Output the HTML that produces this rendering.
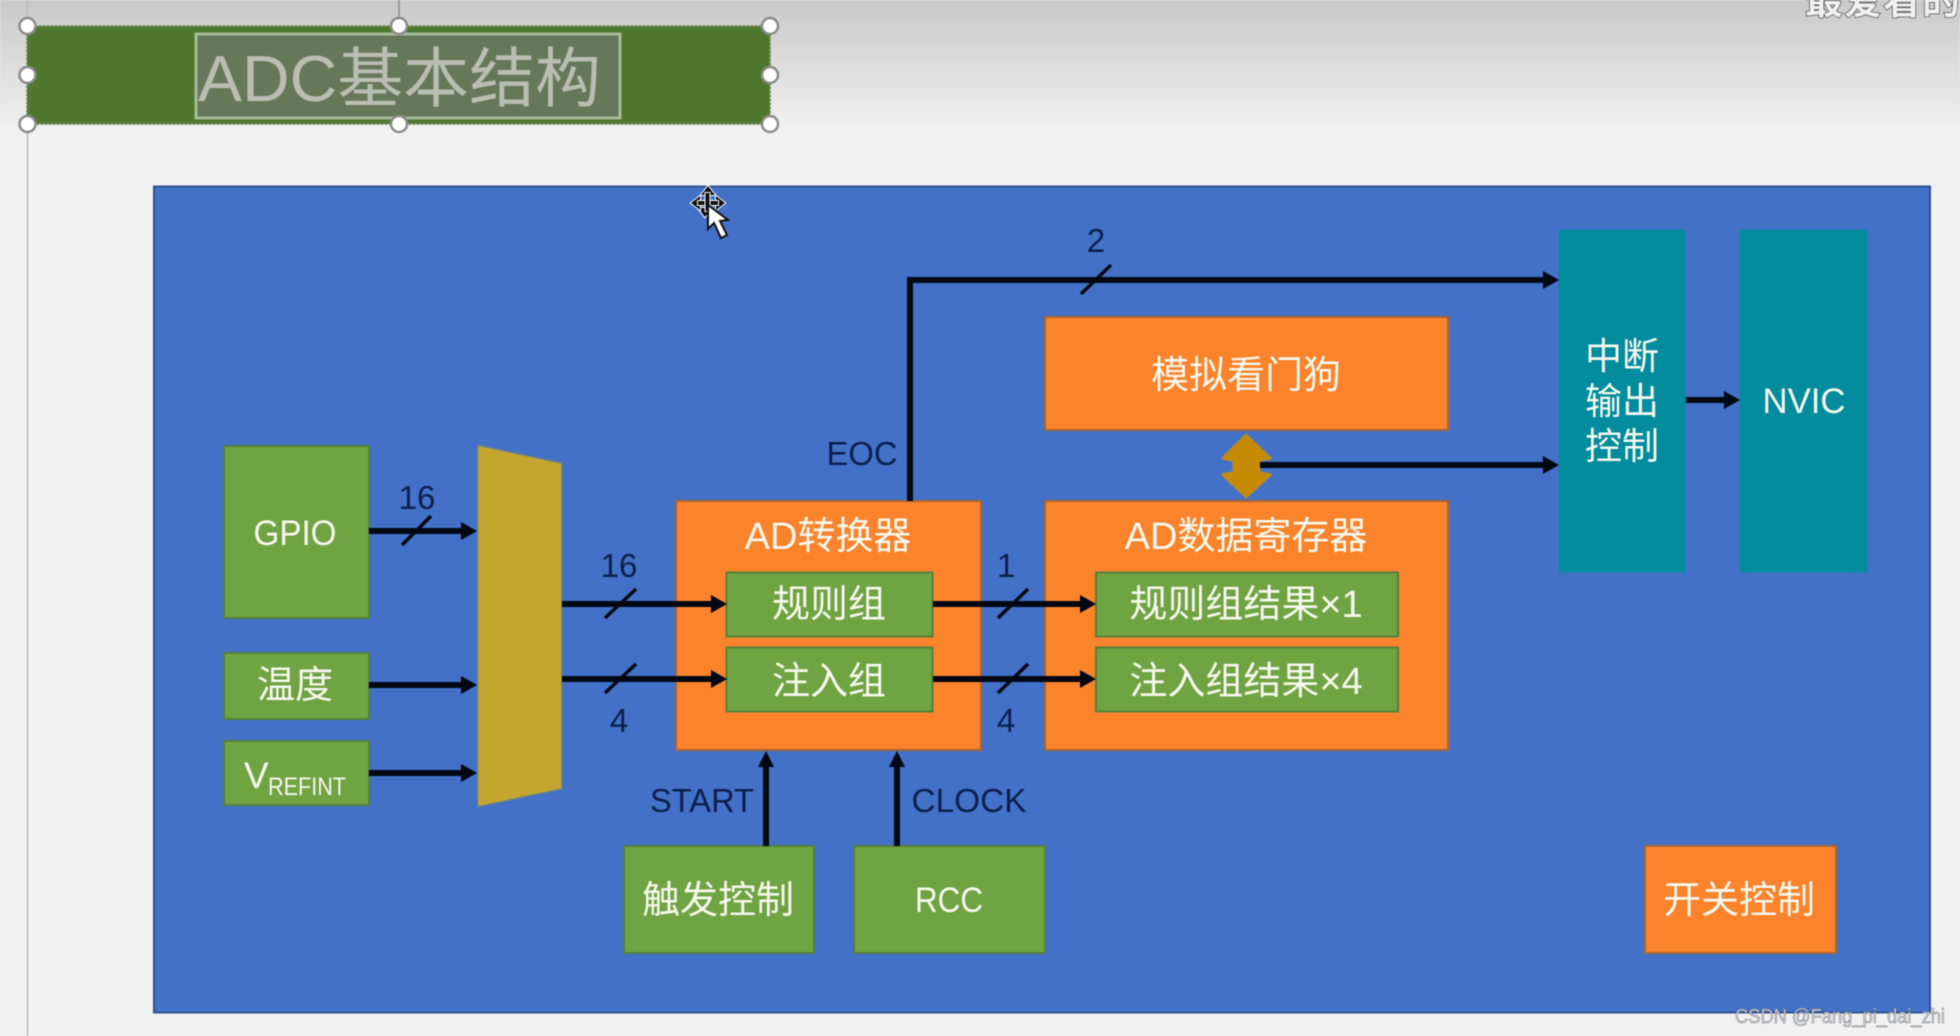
<!DOCTYPE html>
<html>
<head>
<meta charset="utf-8">
<style>
html,body{margin:0;padding:0;width:1960px;height:1036px;overflow:hidden;background:#f1f1f1}
svg{display:block;filter:blur(0.5px)}
text{font-family:"Liberation Sans","Noto Sans CJK SC",sans-serif}
.w{fill:#f6f8ee;font-size:38px;text-anchor:middle}
.d{fill:#0c1f4e;font-size:33px;text-anchor:middle}
.g{fill:#70a443;stroke:#55803a;stroke-width:2}
.o{fill:#fa832b;stroke:#a8662e;stroke-width:2}
.t{fill:#028c9e;stroke:#0a8aa0;stroke-width:1}
.l{stroke:#000814;stroke-width:6;fill:none}
.s{stroke:#000814;stroke-width:3.500;fill:none}
.h{fill:#000814}
.r{fill:#fff;stroke:#8b8b8b;stroke-width:2.5}
</style>
</head>
<body>
<svg width="1960" height="1036" viewBox="0 0 1960 1036" xmlns="http://www.w3.org/2000/svg">
<defs>
<linearGradient id="bg" x1="0" y1="0" x2="0" y2="1">
<stop offset="0" stop-color="#c9c9c9"/><stop offset="1" stop-color="#f1f1f1"/>
</linearGradient>
</defs>
<rect width="1960" height="1036" fill="#f1f1f1"/>
<rect width="1960" height="130" fill="url(#bg)"/>
<line x1="27.5" y1="0" x2="27.5" y2="1036" stroke="#bdbdbd" stroke-width="1.5"/>

<!-- top right cut-off text -->
<text x="1805" y="14" font-size="38" font-weight="700" fill="#f0f0f0" stroke="#555" stroke-width="1.5" paint-order="stroke" letter-spacing="1">最爱看的</text>

<!-- title -->
<line x1="399" y1="0" x2="399" y2="26" stroke="#8b8b8b" stroke-width="1.5"/>
<rect x="27" y="26" width="743" height="98" fill="#4f772d" stroke="#6d8a55" stroke-width="2" stroke-dasharray="2 2"/>
<rect x="196" y="34" width="424" height="84" fill="#66785a" stroke="#a6b89a" stroke-width="3"/>
<text x="198" y="101" font-size="65" fill="#b9bdb2" textLength="403" lengthAdjust="spacingAndGlyphs">ADC基本结构</text>
<circle class="r" cx="27.5" cy="26" r="8"/><circle class="r" cx="399" cy="26" r="8"/><circle class="r" cx="770" cy="26" r="8"/>
<circle class="r" cx="27.5" cy="75" r="8"/><circle class="r" cx="770" cy="75" r="8"/>
<circle class="r" cx="27.5" cy="124" r="8"/><circle class="r" cx="399" cy="124" r="8"/><circle class="r" cx="770" cy="124" r="8"/>

<!-- panel -->
<rect x="154" y="186.500" width="1776" height="826" fill="#4271c7" stroke="#2f528f" stroke-width="2"/>

<!-- left inputs -->
<rect class="g" x="224" y="446" width="145" height="172"/>
<text class="w" x="295" y="545" style="font-size:35px" textLength="83" lengthAdjust="spacingAndGlyphs">GPIO</text>
<rect class="g" x="224" y="653" width="145" height="66"/>
<text class="w" x="295" y="698">温度</text>
<rect class="g" x="224" y="741" width="145" height="64"/>
<text x="244" y="788" font-size="37" fill="#f6f8ee">V</text>
<text x="268" y="795" font-size="25" fill="#f6f8ee" textLength="78" lengthAdjust="spacingAndGlyphs">REFINT</text>

<!-- mux -->
<polygon points="477.500,445 562,463 562,789 477.500,807" fill="#c4a52f" stroke="#5f7f9a" stroke-width="1.5"/>

<!-- AD converter -->
<rect class="o" x="676" y="501" width="305" height="249"/>
<text class="w" x="828" y="549">AD转换器</text>
<rect class="g" x="726.500" y="572.500" width="206" height="64"/>
<text class="w" x="829" y="617">规则组</text>
<rect class="g" x="726.500" y="647.500" width="206" height="64"/>
<text class="w" x="829" y="694">注入组</text>

<!-- AD data reg -->
<rect class="o" x="1045" y="501" width="403" height="249"/>
<text class="w" x="1246" y="549">AD数据寄存器</text>
<rect class="g" x="1096" y="572.500" width="302" height="64"/>
<text class="w" x="1246" y="617">规则组结果×1</text>
<rect class="g" x="1096" y="647.500" width="302" height="64"/>
<text class="w" x="1246" y="694">注入组结果×4</text>

<!-- watchdog -->
<rect class="o" x="1045" y="317" width="403" height="113"/>
<text class="w" x="1246" y="388">模拟看门狗</text>

<!-- double arrow -->
<polygon points="1246,434 1271,458 1271,459 1260,461 1260,472 1271,474 1271,475 1246,498 1222,475 1222,474 1233,472 1233,461 1222,459 1222,458" fill="#c68a05" stroke="#b38a30" stroke-width="1.5"/>

<!-- interrupt + NVIC -->
<rect class="t" x="1559" y="230" width="126" height="342"/>
<text class="w" x="1622" y="369" style="font-size:37px">中断</text>
<text class="w" x="1622" y="414" style="font-size:37px">输出</text>
<text class="w" x="1622" y="459" style="font-size:37px">控制</text>
<rect class="t" x="1740" y="230" width="127" height="342"/>
<text class="w" x="1804" y="413" style="font-size:35px" textLength="83" lengthAdjust="spacingAndGlyphs">NVIC</text>

<!-- bottom blocks -->
<rect class="g" x="624" y="846" width="190" height="107"/>
<text class="w" x="718" y="913">触发控制</text>
<rect class="g" x="854" y="846" width="191" height="107"/>
<text class="w" x="949" y="912" style="font-size:35px" textLength="68" lengthAdjust="spacingAndGlyphs">RCC</text>
<rect class="o" x="1645" y="846" width="191" height="107"/>
<text class="w" x="1739" y="913">开关控制</text>

<!-- connectors -->
<line class="l" x1="369" y1="531" x2="462" y2="531"/><polygon class="h" points="461,522 477,531 461,540"/>
<line class="l" x1="369" y1="685" x2="462" y2="685"/><polygon class="h" points="461,676 477,685 461,694"/>
<line class="l" x1="369" y1="773" x2="462" y2="773"/><polygon class="h" points="461,764 477,773 461,782"/>
<line class="s" x1="402" y1="545" x2="431" y2="516"/>

<line class="l" x1="562" y1="604" x2="712" y2="604"/><polygon class="h" points="711,595 727,604 711,613"/>
<line class="l" x1="562" y1="679" x2="712" y2="679"/><polygon class="h" points="711,670 727,679 711,688"/>
<line class="s" x1="605" y1="618" x2="636" y2="589"/>
<line class="s" x1="605" y1="693" x2="636" y2="664"/>

<line class="l" x1="933" y1="604" x2="1081" y2="604"/><polygon class="h" points="1080,595 1096,604 1080,613"/>
<line class="l" x1="933" y1="679" x2="1081" y2="679"/><polygon class="h" points="1080,670 1096,679 1080,688"/>
<line class="s" x1="998" y1="618" x2="1028" y2="589"/>
<line class="s" x1="998" y1="693" x2="1028" y2="664"/>

<polyline class="l" points="910,501 910,280 1545,280"/><polygon class="h" points="1543,271 1559,280 1543,289"/>
<line class="s" x1="1081" y1="294" x2="1111" y2="265"/>
<line class="l" x1="1260" y1="465" x2="1545" y2="465"/><polygon class="h" points="1543,456 1559,465 1543,474"/>
<line class="l" x1="1686" y1="400" x2="1726" y2="400"/><polygon class="h" points="1724,391 1740,400 1724,409"/>

<line class="l" x1="766" y1="846" x2="766" y2="765"/><polygon class="h" points="758,767 766,751 774,767"/>
<line class="l" x1="897" y1="846" x2="897" y2="765"/><polygon class="h" points="889,767 897,751 905,767"/>

<!-- labels -->
<text class="d" x="417" y="509">16</text>
<text class="d" x="619" y="577">16</text>
<text class="d" x="619" y="732">4</text>
<text class="d" x="1006" y="577">1</text>
<text class="d" x="1006" y="732">4</text>
<text class="d" x="1096" y="252">2</text>
<text class="d" x="862" y="465" textLength="71" lengthAdjust="spacingAndGlyphs">EOC</text>
<text class="d" x="702" y="812" textLength="104" lengthAdjust="spacingAndGlyphs">START</text>
<text class="d" x="969" y="812" textLength="115" lengthAdjust="spacingAndGlyphs">CLOCK</text>

<!-- cursor -->
<g stroke="#fff" stroke-width="2" fill="#111" paint-order="stroke">
<polygon points="708,186 715,195 701,195"/>
<polygon points="705,217 712,208 698,208"/>
<polygon points="691,203 700,196 700,210"/>
<polygon points="725,203 716,196 716,210"/>
<rect x="698" y="201" width="20" height="4"/>
<rect x="705.500" y="193" width="4" height="18"/>
</g>
<polygon points="708,205 708,229 714,223 721,238 727,235 720,221 728,220" fill="#fff" stroke="#111" stroke-width="2"/>

<!-- watermark -->
<text x="1735" y="1023" font-size="20" fill="#d2d4d8" stroke="#7c7c7c" stroke-width="0.5" textLength="210" lengthAdjust="spacingAndGlyphs">CSDN @Fang_pi_dai_zhi</text>
</svg>
</body>
</html>
